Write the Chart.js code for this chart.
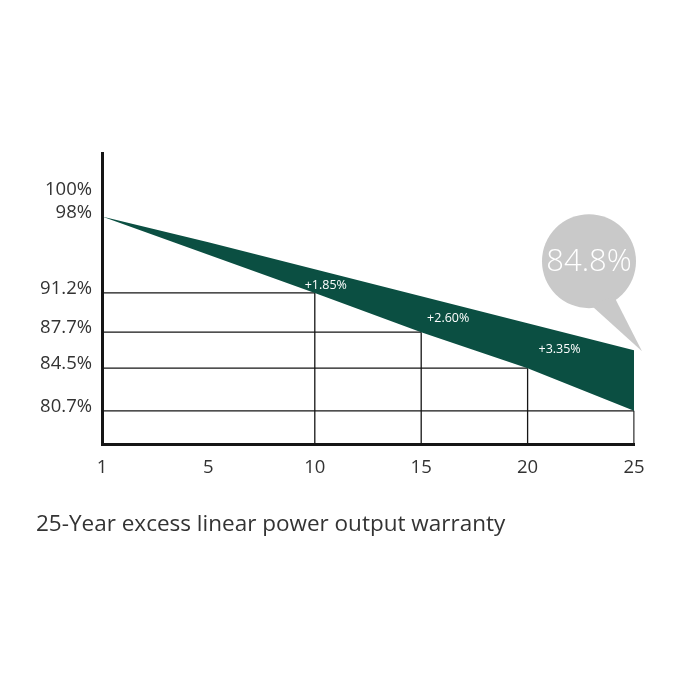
<!DOCTYPE html>
<html>
<head>
<meta charset="utf-8">
<script src="https://cdn.jsdelivr.net/npm/chart.js@4"></script>
<style>
  html, body { margin: 0; padding: 0; background: #fff; }
  #wrap { width: 676px; height: 676px; }
</style>
</head>
<body>
<div id="wrap"><canvas id="warrantyChart"></canvas></div>
<script>
const years = ['1', '5', '10', '15', '20', '25'];
const excessOutput = [98, 95.7, 93.3, 90.9, 88.5, 86.1];
const linearOutput = [98, 94.6, 91.2, 87.7, 84.5, 80.7];
const yTickValues = [100, 98, 91.2, 87.7, 84.5, 80.7];
const gainLabels = ['', '', '+1.85%', '+2.60%', '+3.35%', ''];
const finalValue = '84.8%';
const yMin = 77.75, yMax = 103.65;

const green = '#0b4f42';
const lineColor = '#151515';
const fontFamily = '"Open Sans", "Noto Sans", sans-serif';

// drop lines from each marked point to both axes
const guideSets = [];
for (let i = 2; i < years.length; i++) {
  guideSets.push({
    data: [{ x: years[0], y: linearOutput[i] }, { x: years[i], y: linearOutput[i] }],
    borderColor: lineColor, borderWidth: 1.3, pointRadius: 0, fill: false, order: 3
  });
  guideSets.push({
    data: [{ x: years[i], y: yMin }, { x: years[i], y: linearOutput[i] }],
    borderColor: lineColor, borderWidth: 1.3, pointRadius: 0, fill: false, order: 3
  });
}

const calloutPlugin = {
  id: 'callouts',
  afterDatasetsDraw(chart) {
    const ctx = chart.ctx;
    const xs = chart.scales.x, ys = chart.scales.y;
    const shift = [0, 0, 11, 27, 32, 0];
    ctx.save();
    ctx.fillStyle = '#fff';
    ctx.font = '12.5px ' + fontFamily;
    ctx.textAlign = 'center';
    ctx.textBaseline = 'middle';
    gainLabels.forEach((txt, i) => {
      if (!txt) return;
      const x = xs.getPixelForValue(i) + shift[i];
      const y = (ys.getPixelForValue(excessOutput[i]) + ys.getPixelForValue(linearOutput[i])) / 2 + 4;
      ctx.fillText(txt, x, y);
    });

    // speech bubble at the end of the band
    const last = years.length - 1;
    const ax = xs.getPixelForValue(last);
    const ay = ys.getPixelForValue(excessOutput[last]);
    const cx = ax - 45, cy = ay - 89;
    ctx.fillStyle = '#c9c9c9';
    ctx.beginPath();
    ctx.arc(cx, cy, 47, 0, Math.PI * 2);
    ctx.fill();
    ctx.beginPath();
    ctx.moveTo(ax - 44, ay - 46);
    ctx.lineTo(ax + 8, ay + 1);
    ctx.lineTo(ax - 20, ay - 54);
    ctx.closePath();
    ctx.fill();
    ctx.fillStyle = '#fff';
    ctx.font = '300 31px ' + fontFamily;
    ctx.fillText(finalValue, cx, cy + 1);
    ctx.restore();
  }
};

Chart.defaults.font.family = fontFamily;

new Chart(document.getElementById('warrantyChart'), {
  type: 'line',
  data: {
    labels: years,
    datasets: [
      {
        data: excessOutput,
        borderWidth: 0, pointRadius: 0, tension: 0,
        backgroundColor: green, fill: '+1', order: 1
      },
      {
        data: linearOutput,
        borderWidth: 0, pointRadius: 0, tension: 0,
        backgroundColor: green, fill: false, order: 2
      },
      ...guideSets
    ]
  },
  options: {
    responsive: true,
    maintainAspectRatio: false,
    animation: false,
    layout: { padding: { left: 36, top: 153, right: 42, bottom: 137.5 } },
    plugins: {
      legend: { display: false },
      tooltip: { enabled: false },
      title: {
        display: true,
        text: '25-Year excess linear power output warranty',
        position: 'bottom',
        align: 'start',
        color: '#333',
        font: { size: 22.5, weight: 'normal' },
        padding: { top: 17.5, bottom: 0 }
      }
    },
    scales: {
      x: {
        type: 'category',
        offset: false,
        grid: { display: false, drawTicks: false },
        border: { color: lineColor, width: 3 },
        ticks: { color: '#333', font: { size: 18.5 }, padding: 13, maxRotation: 0, autoSkip: false },
        afterFit: s => { s.height = 50; }
      },
      y: {
        min: yMin,
        max: yMax,
        grid: { display: false, drawTicks: false },
        border: { color: lineColor, width: 3 },
        afterBuildTicks: s => { s.ticks = yTickValues.map(v => ({ value: v })); },
        ticks: {
          color: '#333',
          font: { size: 18.5 },
          padding: 10,
          labelOffset: -4,
          callback: v => v + '%'
        },
        afterFit: s => { s.width = 66; }
      }
    }
  },
  plugins: [calloutPlugin]
});
</script>
</body>
</html>
